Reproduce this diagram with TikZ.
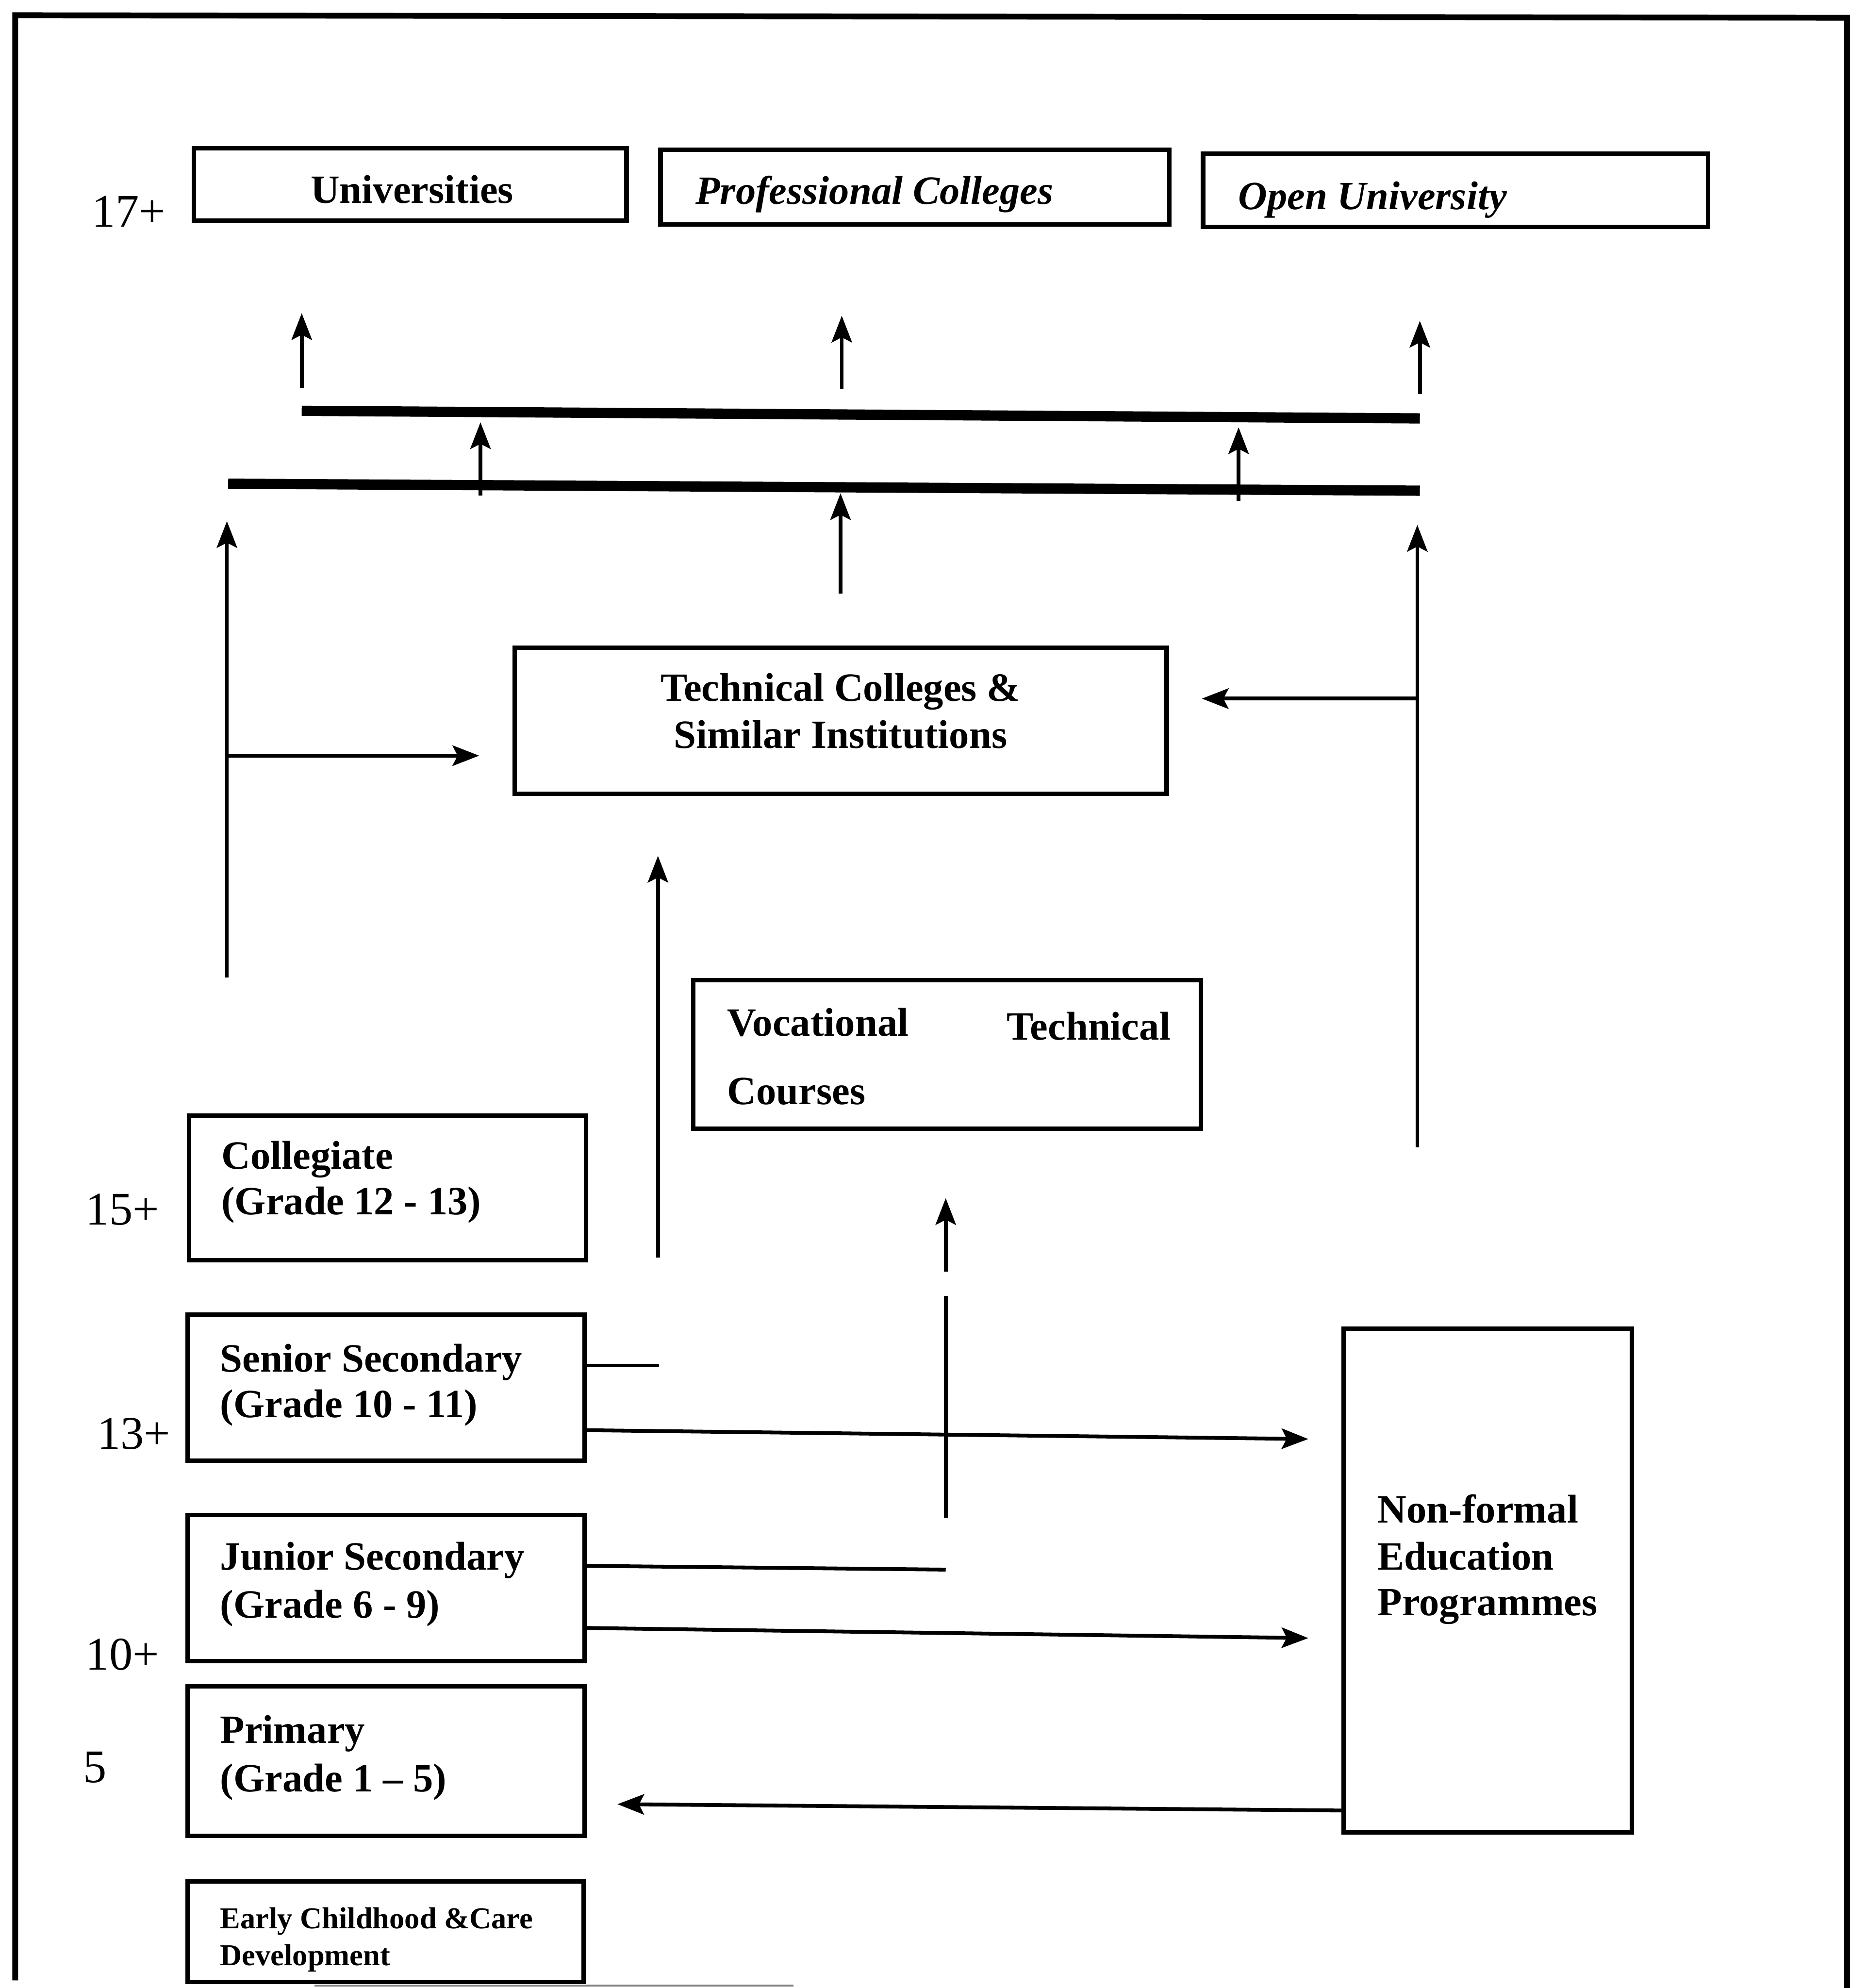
\documentclass[tikz,border=0pt]{standalone}
\usepackage{fontspec}
\setmainfont{Liberation Serif}
\usetikzlibrary{arrows.meta,calc}
\begin{document}
\begin{tikzpicture}[x=0.01cm,y=-0.01cm,
  box/.style={draw,line width=1pt,anchor=north west,inner sep=0pt,outer sep=0pt},
  txt/.style={font=\bfseries\fontsize{9}{10.4}\selectfont,inner sep=0pt,anchor=base west},
  itxt/.style={txt,font=\bfseries\itshape\fontsize{9}{10.4}\selectfont},
  stxt/.style={txt,font=\bfseries\fontsize{6.8}{8}\selectfont},
  age/.style={font=\fontsize{10.5}{12}\selectfont,inner sep=0pt,anchor=base west},
  conn/.style={line width=0.85pt},
  arr/.style={conn,-{Stealth[length=0.21cm,width=0.16cm,inset=0.04cm]}},
  bar/.style={line width=2.3pt},
  outerframe/.style={line width=1.3pt}]
\useasboundingbox (0,0) rectangle (1459,1568);

% outer frame
\draw[outerframe] (12,1562) -- (12,12) -- (1457,14) -- (1457,1568);
\draw[line width=0.5pt,black!50] (248,1566) -- (626,1566);

% boxes
\node[box,minimum width=3.41cm,minimum height=0.57cm] (uni) at (153,117) {};
\node[box,minimum width=4.01cm,minimum height=0.59cm] (prof) at (521,118) {};
\node[box,minimum width=3.98cm,minimum height=0.58cm] (open) at (949,121) {};
\node[box,minimum width=5.14cm,minimum height=1.15cm] (tech) at (406,511) {};
\node[box,minimum width=4.00cm,minimum height=1.17cm] (voc) at (547,773) {};
\node[box,minimum width=3.13cm,minimum height=1.14cm] (coll) at (149,880) {};
\node[box,minimum width=3.13cm,minimum height=1.15cm] (sen) at (148,1037) {};
\node[box,minimum width=3.13cm,minimum height=1.15cm] (jun) at (148,1195) {};
\node[box,minimum width=3.13cm,minimum height=1.18cm] (pri) at (148,1330) {};
\node[box,minimum width=3.12cm,minimum height=0.79cm] (eccd) at (148,1484) {};
\node[box,minimum width=2.27cm,minimum height=3.97cm] (nfe) at (1060,1048) {};

% texts
\node[txt,anchor=base] (tuni) at (325,160) {Universities};
\node[itxt] (tprof) at (548,161) {Professional Colleges};
\node[itxt] (topen) at (976,165) {Open University};
\node[txt,anchor=base] (ttech1) at (663,553) {Technical Colleges \&};
\node[txt,anchor=base] (ttech2) at (663,590) {Similar Institutions};
\node[txt] (tvoc1) at (573,817) {Vocational};
\node[txt,anchor=base east] (tvoc2) at (924,820) {Technical};
\node[txt] (tvoc3) at (573,871) {Courses};
\node[txt] (tcoll1) at (174,922) {Collegiate};
\node[txt] (tcoll2) at (174,958) {(Grade 12 - 13)};
\node[txt] (tsen1) at (173,1082) {Senior Secondary};
\node[txt] (tsen2) at (173,1118) {(Grade 10 - 11)};
\node[txt] (tjun1) at (173,1238) {Junior Secondary};
\node[txt] (tjun2) at (173,1276) {(Grade 6 - 9)};
\node[txt] (tpri1) at (173,1375) {Primary};
\node[txt] (tpri2) at (173,1413) {(Grade 1 -- 5)};
\node[stxt] (teccd1) at (173,1521) {Early Childhood \&Care};
\node[stxt] (teccd2) at (173,1550) {Development};
\node[txt] (tnfe1) at (1086,1201) {Non-formal};
\node[txt] (tnfe2) at (1086,1238) {Education};
\node[txt] (tnfe3) at (1086,1274) {Programmes};

% ages
\node[age] (g17) at (72,179) {17+};
\node[age] (g15) at (67,966) {15+};
\node[age] (g13) at (76,1143) {13+};
\node[age] (g10) at (67,1317) {10+};
\node[age] (g5) at (65,1406) {5};

% coordinates for free ends
\coordinate (a1s) at (238,306); \coordinate (a1e) at (238,247);
\coordinate (a2s) at (664,307); \coordinate (a2e) at (664,249);
\coordinate (a3s) at (1120,311); \coordinate (a3e) at (1120,253);
\coordinate (b1l) at (238,324); \coordinate (b1r) at (1120,330);
\coordinate (b2l) at (180,381.5); \coordinate (b2r) at (1120,387);
\coordinate (a4s) at (379,391); \coordinate (a4e) at (379,333);
\coordinate (a5s) at (977,395); \coordinate (a5e) at (977,337);
\coordinate (a6s) at (663,468); \coordinate (a6e) at (663,389);
\coordinate (lvb) at (179,771); \coordinate (lvt) at (179,411);
\coordinate (lvm) at (179,596); \coordinate (lve) at (378,596);
\coordinate (rvb) at (1118,905); \coordinate (rvt) at (1118,414);
\coordinate (rvm) at (1118,551); \coordinate (rve) at (948,551);
\coordinate (a7s) at (519,992); \coordinate (a7e) at (519,675);
\coordinate (a8s) at (746,1003); \coordinate (a8e) at (746,945);
\coordinate (v8t) at (746,1022); \coordinate (v8b) at (746,1197);
\coordinate (sstub) at (520,1077);
\coordinate (sarr) at (1032,1135);
\coordinate (jstub) at (746,1238);
\coordinate (jarr) at (1032,1292);
\coordinate (parr) at (487,1423);

% top arrows and bars
\draw[arr] (a1s) -- (a1e);
\draw[arr] (a2s) -- (a2e);
\draw[arr] (a3s) -- (a3e);
\draw[bar] (b1l) -- (b1r);
\draw[bar] (b2l) -- (b2r);
\draw[arr] (a4s) -- (a4e);
\draw[arr] (a5s) -- (a5e);
\draw[arr] (a6s) -- (a6e);

% side verticals
\draw[arr] (lvb) -- (lvt);
\draw[arr] (lvm) -- (lve);
\draw[arr] (rvb) -- (rvt);
\draw[arr] (rvm) -- (rve);

% middle verticals
\draw[arr] (a7s) -- (a7e);
\draw[arr] (a8s) -- (a8e);
\draw[conn] (v8t) -- (v8b);

% school connectors
\draw[conn] ($(sen.north east)+(0,40)$) -- (sstub);
\draw[arr] ($(sen.north east)+(0,91)$) -- (sarr);
\draw[conn] ($(jun.north east)+(0,40)$) -- (jstub);
\draw[arr] ($(jun.north east)+(0,89)$) -- (jarr);
\draw[arr] ($(nfe.north west)+(0,380)$) -- (parr);
\end{tikzpicture}
\end{document}
